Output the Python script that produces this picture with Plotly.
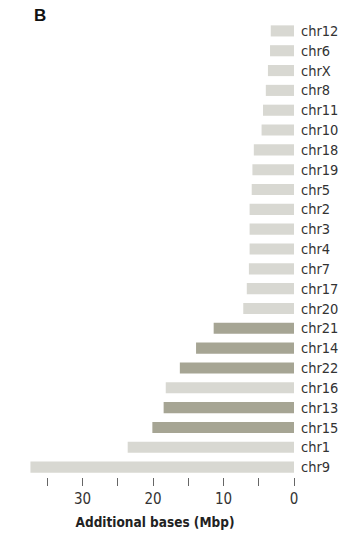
import plotly.graph_objects as go

chromosomes = ["chr12", "chr6", "chrX", "chr8", "chr11", "chr10", "chr18", "chr19",
               "chr5", "chr2", "chr3", "chr4", "chr7", "chr17", "chr20", "chr21",
               "chr14", "chr22", "chr16", "chr13", "chr15", "chr1", "chr9"]
additional_mbp = [3.3, 3.4, 3.7, 4.0, 4.4, 4.6, 5.7, 5.9,
                  6.0, 6.3, 6.3, 6.3, 6.4, 6.7, 7.2, 11.4,
                  13.9, 16.2, 18.2, 18.5, 20.1, 23.6, 37.4]
acrocentric = {"chr13", "chr14", "chr15", "chr21", "chr22"}

LIGHT = "#d8d8d2"
DARK = "#a6a594"
colors = [DARK if c in acrocentric else LIGHT for c in chromosomes]

FONT = "Liberation Sans Narrow, DejaVu Sans Condensed, Arial Narrow, sans-serif"

fig = go.Figure(go.Bar(
    x=additional_mbp, y=chromosomes, orientation="h",
    marker=dict(color=colors, line=dict(width=0)),
    width=0.56,
))

fig.update_layout(
    width=346, height=533,
    margin=dict(l=16, r=52, t=21, b=56, pad=0),
    paper_bgcolor="white", plot_bgcolor="white",
    showlegend=False,
    font=dict(family=FONT, size=15, color="#222"),
    xaxis=dict(
        range=[39.45, 0], tickvals=[0, 10, 20, 30],
        ticks="outside", ticklen=8, tickwidth=1.2, tickcolor="#666",
        minor=dict(tickvals=[5, 15, 25, 35], ticks="outside", ticklen=8,
                   tickwidth=1.2, tickcolor="#666"),
        showgrid=False, zeroline=False, showline=False,
        tickfont=dict(family=FONT, size=15, color="#333"),
        title=dict(text="<b>Additional bases (Mbp)</b>", standoff=10,
                   font=dict(family=FONT, size=13.5, color="#222")),
        automargin=False,
        fixedrange=True,
    ),
    yaxis=dict(
        side="right", autorange="reversed", showgrid=False, zeroline=False,
        showline=False, ticks="", ticklabelstandoff=6,
        tickfont=dict(family=FONT, size=14.5, color="#333"),
        automargin=False,
        fixedrange=True,
    ),
    annotations=[dict(text="<b>B</b>", xref="paper", yref="paper",
                      x=0.086, y=1.013, xanchor="center", yanchor="middle",
                      showarrow=False,
                      font=dict(family="Liberation Sans, Arial, sans-serif",
                                size=17, color="#111"))],
)

fig.write_html("out.html", config={"displayModeBar": False})
